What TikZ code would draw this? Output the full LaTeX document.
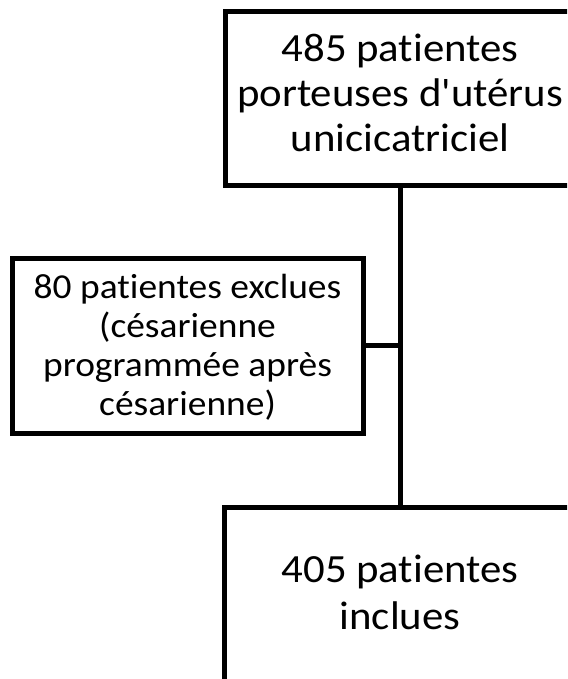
\documentclass[tikz,border=0pt]{standalone}
\usepackage{fontspec}
\setmainfont{Carlito}[Ligatures={TeXOff,NoCommon},FakeStretch=1.07]
\newcommand\upstrut[1]{\rule{0pt}{#1pt}}
\newcommand\downstrut[1]{\rule[-#1pt]{0pt}{#1pt}}
\begin{document}
\begin{tikzpicture}[x=1pt,y=-1pt,
  box/.style={draw=black,line width=5pt,rectangle,inner sep=0pt,align=center,fill=white},
  link/.style={draw=black,line width=5pt}]
\useasboundingbox (0,0) rectangle (567,679);
\clip (0,0) rectangle (567,679);
\node[box,minimum width=350,minimum height=173,font=\fontsize{40}{45}\selectfont] (top) at (400,98.5)
  {\upstrut{30}485 patientes\\porteuses d'utérus\\unicicatriciel\downstrut{13}};
\node[box,minimum width=351,minimum height=175,font=\fontsize{35}{39}\selectfont] (excl) at (187.5,345.5)
  {\upstrut{28}80 patientes exclues\\(césarienne\\programmée après\\césarienne)\downstrut{6}};
\node[box,minimum width=352,minimum height=175,font=\fontsize{40}{47}\selectfont] (incl) at (400,594.5)
  {\upstrut{30}405 patientes\\inclues\downstrut{8}};
\draw[link] (top.south) -- (incl.north);
\draw[link] (excl.east) -- (excl.east -| top.south);
\end{tikzpicture}
\end{document}
